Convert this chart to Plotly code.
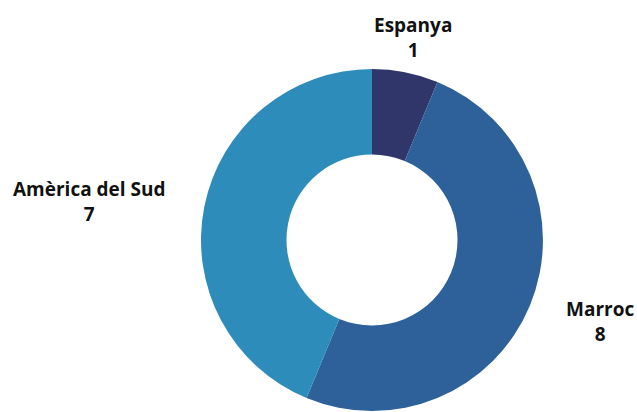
import math
import plotly.graph_objects as go

labels = ["Espanya", "Marroc", "Amèrica del Sud"]
values = [1, 8, 7]
colors = ["#30356a", "#2e6099", "#2e8cbb"]

W, H = 637, 412
CX, CY = 372, 240          # pie centre in pixels
R = 171                    # outer radius in pixels
LABEL_R = 208              # label distance from centre in pixels

fig = go.Figure(go.Pie(
    labels=labels,
    values=values,
    hole=0.5,
    sort=False,
    direction="clockwise",
    rotation=0,
    marker=dict(colors=colors, line=dict(width=0)),
    textinfo="none",
    hoverinfo="label+value",
    showlegend=False,
    domain=dict(x=[(CX - R) / W, (CX + R) / W],
                y=[1 - (CY + R) / H, 1 - (CY - R) / H]),
))

total = sum(values)
cum = 0
for lab, val in zip(labels, values):
    mid = (cum + val / 2) / total * 2 * math.pi
    cum += val
    px = CX + LABEL_R * math.sin(mid)
    py = CY - LABEL_R * math.cos(mid) + 2
    s = math.sin(mid)
    xanchor = "center" if abs(s) < 0.3 else ("left" if s > 0 else "right")
    fig.add_annotation(
        x=px / W, y=1 - py / H, xref="paper", yref="paper",
        text=f"<b>{lab}</b><br><b>{val}</b>",
        showarrow=False, xanchor=xanchor, yanchor="middle", align="center",
        font=dict(family="Open Sans", size=19, color="#111111"),
    )

fig.update_layout(
    width=W, height=H,
    margin=dict(l=0, r=0, t=0, b=0),
    paper_bgcolor="white",
    plot_bgcolor="white",
)

fig.write_html("out.html", config={"displayModeBar": False},
               post_script="document.body.style.margin='0';")
